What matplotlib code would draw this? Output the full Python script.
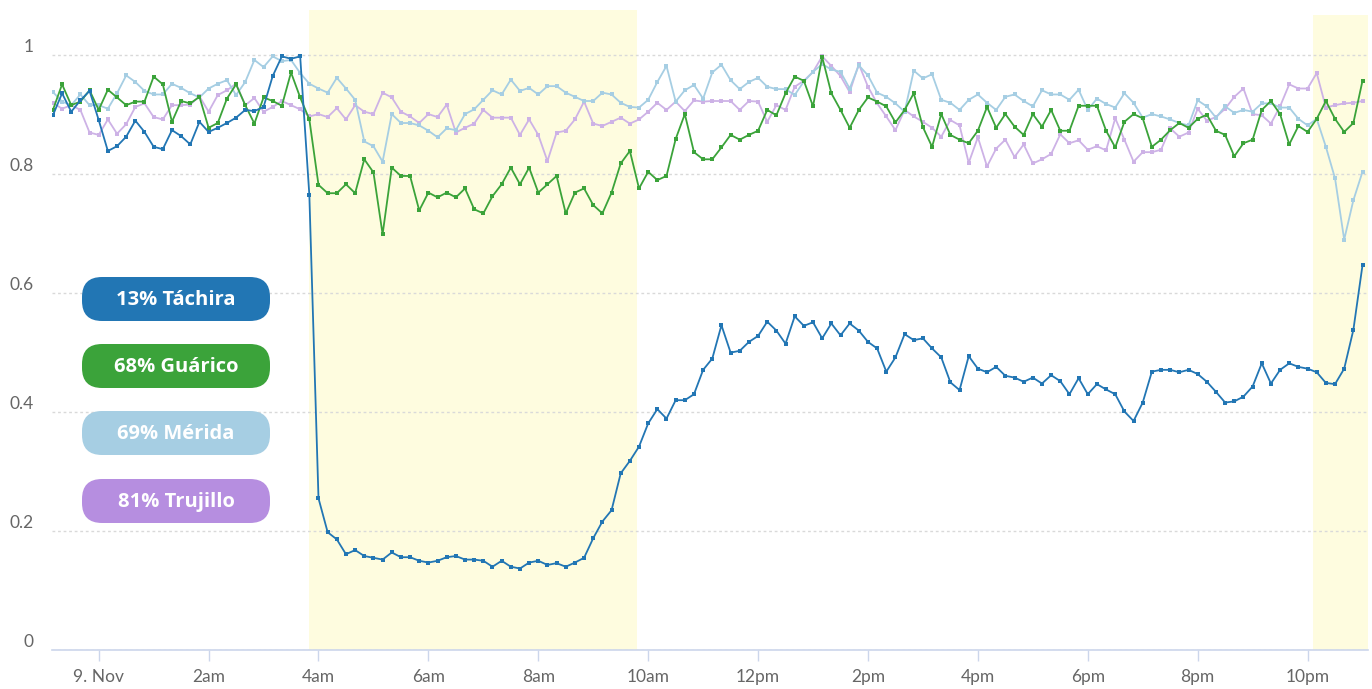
import pandas as pd
import matplotlib
matplotlib.use("Agg")
import matplotlib.pyplot as plt
import matplotlib.dates as mdates
from matplotlib.patches import FancyBboxPatch

# 10-minute samples, 23:10 on 8 Nov to 23:00 on 9 Nov
times = pd.date_range("2018-11-08 23:10", periods=144, freq="10min")

tachira = [
    0.899, 0.936, 0.905, 0.924, 0.940, 0.891, 0.839, 0.847, 0.863, 0.890,
    0.871, 0.846, 0.842, 0.874, 0.864, 0.850, 0.888, 0.871, 0.878, 0.886,
    0.895, 0.908, 0.906, 0.913, 0.965, 0.998, 0.994, 0.998, 0.765, 0.255,
    0.198, 0.186, 0.161, 0.168, 0.158, 0.155, 0.152, 0.164, 0.156, 0.156,
    0.150, 0.147, 0.150, 0.156, 0.158, 0.152, 0.152, 0.150, 0.140, 0.150,
    0.140, 0.137, 0.147, 0.150, 0.143, 0.146, 0.140, 0.147, 0.155, 0.188,
    0.216, 0.235, 0.297, 0.318, 0.342, 0.381, 0.405, 0.389, 0.420, 0.420,
    0.430, 0.471, 0.490, 0.546, 0.500, 0.503, 0.518, 0.528, 0.552, 0.537,
    0.515, 0.561, 0.545, 0.551, 0.524, 0.549, 0.529, 0.549, 0.537, 0.518,
    0.507, 0.468, 0.492, 0.531, 0.521, 0.524, 0.507, 0.492, 0.450, 0.437,
    0.494, 0.473, 0.467, 0.476, 0.461, 0.458, 0.451, 0.458, 0.448, 0.462,
    0.452, 0.430, 0.457, 0.430, 0.447, 0.438, 0.430, 0.401, 0.385, 0.416,
    0.468, 0.471, 0.471, 0.467, 0.471, 0.464, 0.451, 0.434, 0.416, 0.418,
    0.426, 0.443, 0.482, 0.448, 0.471, 0.482, 0.476, 0.473, 0.467, 0.449,
    0.447, 0.473, 0.538, 0.647,
]

guarico = [
    0.908, 0.951, 0.916, 0.922, 0.941, 0.908, 0.942, 0.929, 0.916, 0.922,
    0.922, 0.964, 0.951, 0.888, 0.923, 0.919, 0.930, 0.878, 0.886, 0.927,
    0.951, 0.916, 0.885, 0.929, 0.923, 0.915, 0.971, 0.929, 0.892, 0.782,
    0.768, 0.768, 0.783, 0.768, 0.825, 0.803, 0.699, 0.811, 0.797, 0.797,
    0.739, 0.769, 0.761, 0.769, 0.761, 0.776, 0.741, 0.734, 0.763, 0.783,
    0.811, 0.783, 0.811, 0.769, 0.783, 0.797, 0.734, 0.769, 0.776, 0.748,
    0.734, 0.769, 0.818, 0.839, 0.776, 0.804, 0.790, 0.797, 0.859, 0.901,
    0.837, 0.825, 0.825, 0.845, 0.866, 0.858, 0.866, 0.873, 0.908, 0.899,
    0.936, 0.964, 0.957, 0.914, 0.997, 0.936, 0.908, 0.878, 0.908, 0.929,
    0.922, 0.914, 0.887, 0.908, 0.936, 0.879, 0.846, 0.901, 0.866, 0.858,
    0.852, 0.873, 0.913, 0.878, 0.901, 0.880, 0.866, 0.901, 0.880, 0.908,
    0.873, 0.873, 0.915, 0.915, 0.915, 0.873, 0.845, 0.888, 0.901, 0.894,
    0.846, 0.858, 0.874, 0.886, 0.878, 0.893, 0.900, 0.873, 0.866, 0.830,
    0.852, 0.858, 0.908, 0.923, 0.901, 0.850, 0.881, 0.871, 0.893, 0.923,
    0.893, 0.871, 0.886, 0.957,
]

merida = [
    0.938, 0.922, 0.916, 0.934, 0.916, 0.916, 0.910, 0.936, 0.966, 0.955,
    0.940, 0.934, 0.934, 0.952, 0.945, 0.936, 0.929, 0.944, 0.952, 0.958,
    0.933, 0.955, 0.992, 0.980, 0.998, 0.990, 0.992, 0.970, 0.952, 0.944,
    0.937, 0.962, 0.944, 0.925, 0.855, 0.847, 0.821, 0.901, 0.886, 0.886,
    0.882, 0.873, 0.862, 0.877, 0.874, 0.901, 0.909, 0.925, 0.941, 0.934,
    0.959, 0.940, 0.945, 0.934, 0.948, 0.948, 0.937, 0.930, 0.923, 0.923,
    0.937, 0.934, 0.920, 0.913, 0.912, 0.925, 0.955, 0.982, 0.922, 0.941,
    0.950, 0.927, 0.971, 0.984, 0.958, 0.943, 0.955, 0.962, 0.947, 0.943,
    0.943, 0.933, 0.956, 0.972, 0.985, 0.976, 0.972, 0.944, 0.983, 0.966,
    0.937, 0.930, 0.919, 0.905, 0.974, 0.961, 0.968, 0.925, 0.920, 0.908,
    0.925, 0.934, 0.920, 0.908, 0.930, 0.934, 0.923, 0.914, 0.941, 0.934,
    0.934, 0.925, 0.942, 0.908, 0.927, 0.918, 0.912, 0.936, 0.920, 0.895,
    0.901, 0.897, 0.892, 0.886, 0.882, 0.924, 0.914, 0.895, 0.914, 0.903,
    0.908, 0.905, 0.919, 0.919, 0.912, 0.912, 0.893, 0.882, 0.893, 0.846,
    0.793, 0.690, 0.756, 0.804,
]

trujillo = [
    0.920, 0.910, 0.916, 0.908, 0.870, 0.866, 0.892, 0.868, 0.884, 0.913,
    0.919, 0.896, 0.892, 0.916, 0.916, 0.917, 0.931, 0.905, 0.933, 0.941,
    0.952, 0.916, 0.928, 0.905, 0.913, 0.923, 0.916, 0.909, 0.897, 0.901,
    0.896, 0.911, 0.892, 0.916, 0.905, 0.901, 0.937, 0.929, 0.905, 0.897,
    0.886, 0.901, 0.896, 0.917, 0.870, 0.878, 0.885, 0.908, 0.895, 0.895,
    0.895, 0.866, 0.892, 0.866, 0.822, 0.870, 0.873, 0.892, 0.922, 0.885,
    0.881, 0.888, 0.895, 0.885, 0.892, 0.905, 0.920, 0.908, 0.922, 0.906,
    0.924, 0.922, 0.923, 0.923, 0.923, 0.908, 0.923, 0.922, 0.888, 0.916,
    0.908, 0.947, 0.957, 0.972, 0.998, 0.982, 0.965, 0.938, 0.985, 0.947,
    0.919, 0.897, 0.874, 0.908, 0.897, 0.888, 0.878, 0.863, 0.891, 0.882,
    0.819, 0.862, 0.813, 0.843, 0.858, 0.829, 0.850, 0.818, 0.825, 0.834,
    0.867, 0.852, 0.857, 0.841, 0.847, 0.840, 0.894, 0.858, 0.821, 0.837,
    0.837, 0.841, 0.877, 0.863, 0.870, 0.910, 0.890, 0.896, 0.910, 0.930,
    0.944, 0.901, 0.899, 0.885, 0.914, 0.951, 0.944, 0.944, 0.970, 0.912,
    0.916, 0.919, 0.920, 0.923,
]

legend_labels = ["13% Táchira", "68% Guárico", "69% Mérida", "81% Trujillo"]

tick_times = pd.date_range("2018-11-09 00:00", "2018-11-09 22:00", freq="2h")
tick_labels = ["9. Nov", "2am", "4am", "6am", "8am", "10am",
               "12pm", "2pm", "4pm", "6pm", "8pm", "10pm"]

bands = [("2018-11-09 03:50", "2018-11-09 09:48"),
         ("2018-11-09 22:06", "2018-11-09 23:10")]

#-----------------------------------------------
c_tachira = "#2276b4"
c_guarico = "#3ba33a"
c_merida = "#a6cee3"
c_trujillo = "#cdb2e6"
legend_colors = [c_tachira, c_guarico, c_merida, "#b68ee0"]
grey = "#666666"

W, H = 1372, 689
fig = plt.figure(figsize=(W / 100, H / 100), dpi=100)
fig.patch.set_facecolor("white")
ax = fig.add_axes([52 / W, 39 / H, (1368 - 52) / W, (679 - 39) / H])

x = mdates.date2num(times.to_pydatetime())

for (start, end), top in zip(bands, [1.0, 0.992]):
    ax.axvspan(mdates.date2num(pd.Timestamp(start)), mdates.date2num(pd.Timestamp(end)),
               ymin=0, ymax=top, color="#fefcdf", lw=0, zorder=0)

style = dict(lw=1.3, marker="s", markersize=2.6, markeredgewidth=0)
ax.plot(x, trujillo, color=c_trujillo, zorder=2, **style)
ax.plot(x, merida, color=c_merida, zorder=3, **style)
ax.plot(x, guarico, color=c_guarico, zorder=4, **style)
ax.plot(x, tachira, color=c_tachira, zorder=5, **style)

ax.set_xlim(x[0] - 1 / 1440, mdates.date2num(pd.Timestamp("2018-11-09 23:06")))
ax.set_ylim(0, 1.076)

# y axis
ax.set_yticks([0, 0.2, 0.4, 0.6, 0.8, 1.0])
ax.set_yticklabels(["0", "0.2", "0.4", "0.6", "0.8", "1"])
ax.tick_params(axis="y", length=0, pad=13, labelsize=12.5, labelcolor=grey)
for lab in ax.get_yticklabels():
    lab.set_verticalalignment("bottom")
    lab.set_fontfamily("Lato")
ax.yaxis.grid(True, color="#d9d9d9", lw=1, linestyle=(0, (2, 2)))
ax.set_axisbelow(False)

# x axis
ax.set_xticks(mdates.date2num(tick_times.to_pydatetime()))
ax.set_xticklabels(tick_labels)
ax.tick_params(axis="x", length=8, width=1, color="#ccd6eb", direction="out",
               pad=6, labelsize=12.5, labelcolor=grey)
for lab in ax.get_xticklabels():
    lab.set_fontfamily("Lato")

for side in ["top", "left", "right"]:
    ax.spines[side].set_visible(False)
ax.spines["bottom"].set_color("#ccd6eb")
ax.spines["bottom"].set_linewidth(1.2)
ax.spines["bottom"].set_zorder(6)

# pill-shaped legend boxes, positioned in pixels
tops = [277, 344, 411, 479]
for label, col, top in zip(legend_labels, legend_colors, tops):
    box = FancyBboxPatch((82 / 100, (H - top - 44) / 100), 188 / 100, 44 / 100,
                         boxstyle="round,pad=0,rounding_size=0.2",
                         transform=fig.dpi_scale_trans, facecolor=col,
                         edgecolor="none", zorder=10)
    fig.patches.append(box)
    fig.text(176 / W, 1 - (top + 23) / H, label, ha="center", va="center",
             color="white", fontsize=14.5, fontweight="bold",
             family="Open Sans", zorder=11)

fig.savefig("out.png", dpi=100)
